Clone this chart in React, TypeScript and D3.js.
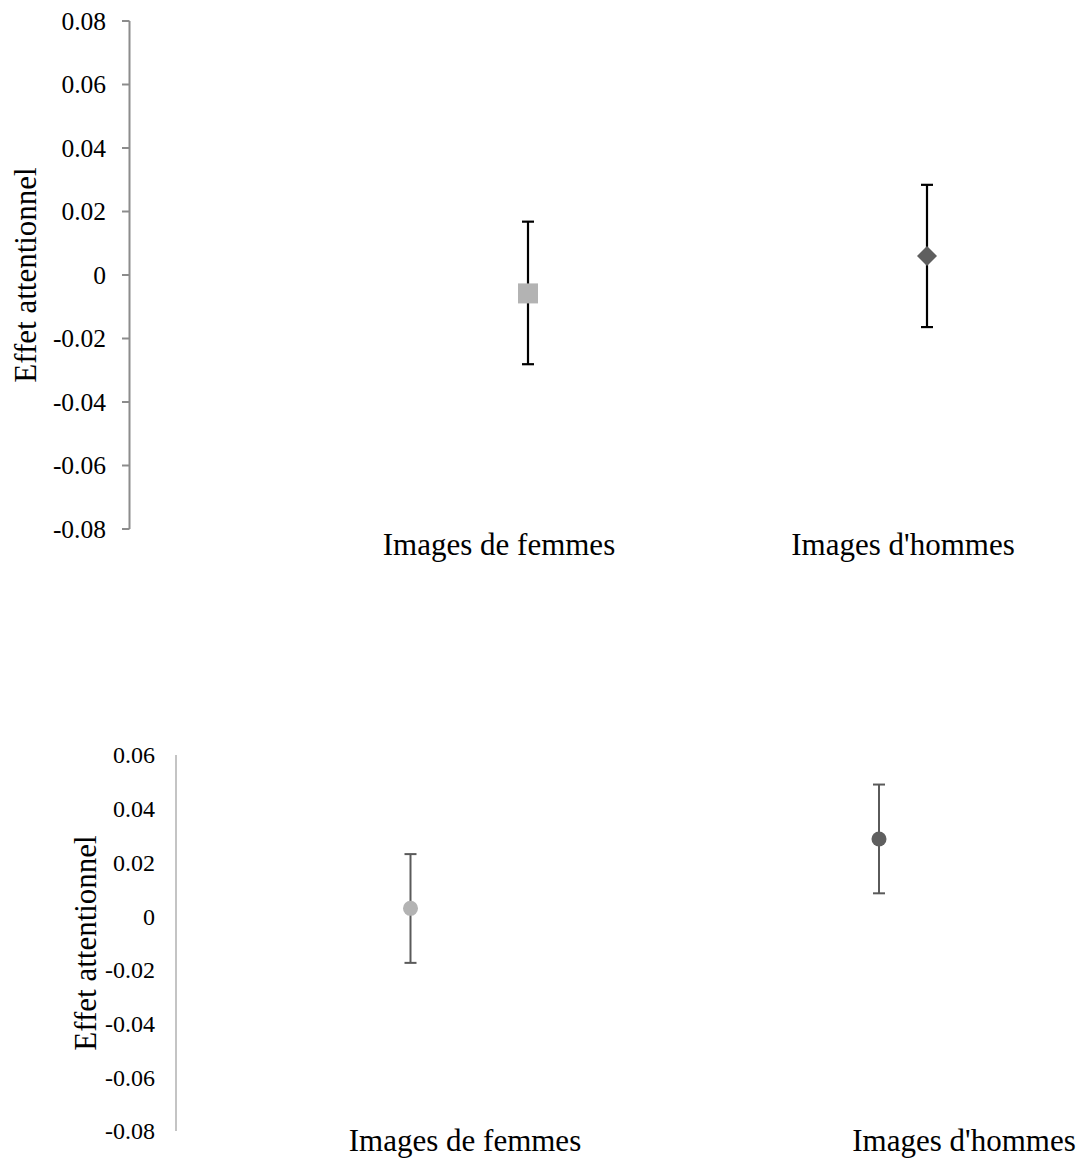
import React from "react";
import * as d3 from "d3";

const categories = ["Images de femmes", "Images d'hommes"];

// Top chart
const topTicks = [0.08, 0.06, 0.04, 0.02, 0, -0.02, -0.04, -0.06, -0.08];
const topTickLabels = ["0.08", "0.06", "0.04", "0.02", "0", "-0.02", "-0.04", "-0.06", "-0.08"];
const topMeans = [-0.0058, 0.006];
const topUpper = [0.0168, 0.0284];
const topLower = [-0.0281, -0.0164];
const topColors = ["#b3b3b3", "#5f5f5f"];

// Bottom chart
const botTicks = [0.06, 0.04, 0.02, 0, -0.02, -0.04, -0.06, -0.08];
const botTickLabels = ["0.06", "0.04", "0.02", "0", "-0.02", "-0.04", "-0.06", "-0.08"];
const botMeans = [0.0029, 0.0287];
const botUpper = [0.0231, 0.049];
const botLower = [-0.0174, 0.0085];
const botColors = ["#b3b3b3", "#5f5f5f"];

const FONT = "'Liberation Serif', 'Times New Roman', serif";

export default function App() {
  const yT = d3.scaleLinear().domain([-0.08, 0.08]).range([529, 21]);
  const xT = d3.scalePoint<string>().domain(categories).range([528, 927]);
  const yB = d3.scaleLinear().domain([-0.08, 0.06]).range([1131, 755]);
  const xB = d3.scalePoint<string>().domain(categories).range([410.5, 879]);

  const diamond = d3.symbol().type(d3.symbolDiamond2).size(255)();
  const topLabelX = [499, 903];
  const botLabelX = [465, 964];

  return (
    <svg width={1085} height={1165} style={{ position: "absolute", left: 0, top: 0, background: "#fff" }}>
      <g fontFamily={FONT}>
        <line x1={129.5} x2={129.5} y1={yT(0.08)} y2={yT(-0.08)} stroke="#8c8c8c" strokeWidth={2} />
        {topTicks.map((t, i) => (
          <g key={"tt" + i}>
            <line x1={122} x2={129.5} y1={yT(t)} y2={yT(t)} stroke="#8c8c8c" strokeWidth={2} />
            <text x={106} y={yT(t)} dy="0.35em" textAnchor="end" fontSize={25.5} fill="#000">
              {topTickLabels[i]}
            </text>
          </g>
        ))}
        <text transform={`translate(36,${yT(0)}) rotate(-90)`} textAnchor="middle" fontSize={31} fill="#000">
          Effet attentionnel
        </text>
        {categories.map((c, i) => (
          <g key={"tc" + i}>
            <line x1={xT(c)} x2={xT(c)} y1={yT(topUpper[i])} y2={yT(topLower[i])} stroke="#000" strokeWidth={2.2} />
            <line x1={xT(c)! - 6} x2={xT(c)! + 6} y1={yT(topUpper[i])} y2={yT(topUpper[i])} stroke="#000" strokeWidth={2.2} />
            <line x1={xT(c)! - 6} x2={xT(c)! + 6} y1={yT(topLower[i])} y2={yT(topLower[i])} stroke="#000" strokeWidth={2.2} />
            {i === 0 ? (
              <rect x={xT(c)! - 10} y={yT(topMeans[i]) - 10} width={20} height={20} fill={topColors[i]} />
            ) : (
              <path d={diamond!} transform={`translate(${xT(c)},${yT(topMeans[i])})`} fill={topColors[i]} />
            )}
            <text x={topLabelX[i]} y={555} textAnchor="middle" fontSize={31} fill="#000">
              {c}
            </text>
          </g>
        ))}
      </g>

      <g fontFamily={FONT}>
        <line x1={176} x2={176} y1={yB(0.06)} y2={yB(-0.08)} stroke="#c4c4c4" strokeWidth={2} />
        {botTicks.map((t, i) => (
          <text key={"bt" + i} x={155} y={yB(t)} dy="0.35em" textAnchor="end" fontSize={24} fill="#000">
            {botTickLabels[i]}
          </text>
        ))}
        <text transform={`translate(85,943) rotate(-90)`} dy="0.35em" textAnchor="middle" fontSize={31} fill="#000">
          Effet attentionnel
        </text>
        {categories.map((c, i) => (
          <g key={"bc" + i}>
            <line x1={xB(c)} x2={xB(c)} y1={yB(botUpper[i])} y2={yB(botLower[i])} stroke="#5a5a5a" strokeWidth={2} />
            <line x1={xB(c)! - 6} x2={xB(c)! + 6} y1={yB(botUpper[i])} y2={yB(botUpper[i])} stroke="#5a5a5a" strokeWidth={2} />
            <line x1={xB(c)! - 6} x2={xB(c)! + 6} y1={yB(botLower[i])} y2={yB(botLower[i])} stroke="#5a5a5a" strokeWidth={2} />
            <circle cx={xB(c)} cy={yB(botMeans[i])} r={7.5} fill={botColors[i]} />
            <text x={botLabelX[i]} y={1151} textAnchor="middle" fontSize={31} fill="#000">
              {c}
            </text>
          </g>
        ))}
      </g>
    </svg>
  );
}
